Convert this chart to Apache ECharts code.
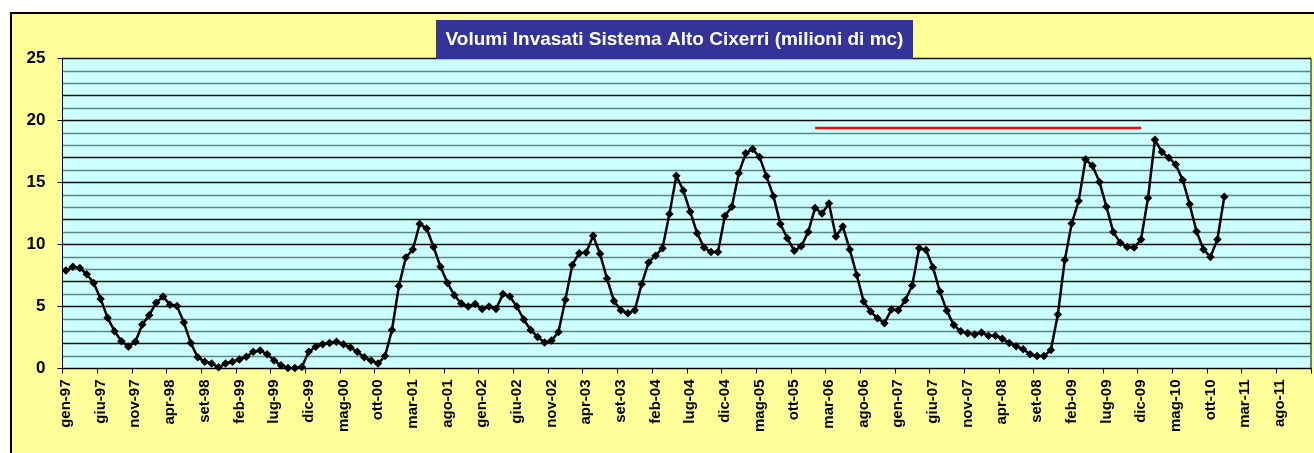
<!DOCTYPE html>
<html>
<head>
<meta charset="utf-8">
<script src="https://cdn.jsdelivr.net/npm/echarts@6/dist/echarts.min.js"></script>
<style>
	html, body { margin: 0; padding: 0; background: #fff; }
	#chart { width: 1314px; height: 453px; }
</style>
</head>
<body>
<div id="chart"></div>
<script>
/*mesi e anni dell'asse*/
var monthNames = ['gen', 'feb', 'mar', 'apr', 'mag', 'giu', 'lug', 'ago', 'set', 'ott', 'nov', 'dic'];
var years = ['97', '98', '99', '00', '01', '02', '03', '04', '05', '06', '07', '08', '09', '10', '11'];

/*volumi invasati (milioni di mc), un anno per riga*/
var volumes = [
	7.9, 8.2, 8.1, 7.6, 6.9, 5.6, 4.1, 3.0, 2.2, 1.75, 2.15, 3.55,
	4.3, 5.3, 5.8, 5.15, 5.05, 3.7, 2.05, 0.9, 0.55, 0.4, 0.1, 0.4,
	0.55, 0.73, 0.95, 1.35, 1.45, 1.15, 0.65, 0.27, 0.05, 0.05, 0.12, 1.35,
	1.75, 1.95, 2.05, 2.15, 1.95, 1.7, 1.35, 0.9, 0.65, 0.4, 1.0, 3.1,
	6.65, 8.95, 9.6, 11.65, 11.3, 9.8, 8.2, 6.9, 5.9, 5.25, 5.0, 5.2,
	4.8, 5.0, 4.8, 6.0, 5.8, 5.0, 3.95, 3.1, 2.55, 2.1, 2.25, 2.95,
	5.55, 8.35, 9.3, 9.35, 10.7, 9.25, 7.25, 5.45, 4.7, 4.45, 4.7, 6.8,
	8.55, 9.1, 9.7, 12.45, 15.55, 14.35, 12.65, 10.9, 9.75, 9.4, 9.4, 12.3,
	13.05, 15.75, 17.35, 17.7, 17.05, 15.5, 13.9, 11.65, 10.5, 9.5, 9.85, 11.0,
	12.95, 12.5, 13.3, 10.65, 11.45, 9.6, 7.55, 5.4, 4.6, 4.05, 3.65, 4.75,
	4.7, 5.5, 6.7, 9.7, 9.55, 8.15, 6.2, 4.65, 3.5, 3.0, 2.85, 2.75,
	2.9, 2.65, 2.65, 2.4, 2.05, 1.8, 1.55, 1.15, 1.0, 1.0, 1.5, 4.35,
	8.75, 11.7, 13.5, 16.85, 16.35, 15.05, 13.05, 11.0, 10.15, 9.8, 9.75, 10.4,
	13.75, 18.45, 17.45, 17.0, 16.45, 15.2, 13.25, 11.05, 9.6, 9.0, 10.4, 13.85,
	null, null, null, null, null, null, null, null, null, null, null, null
];

/*linea rossa*/
var redLevel = 19.4;
var redFrom = 'gen-06';
var redTo = 'dic-09';

/*etichette asse y*/
var yTicks = [0, 5, 10, 15, 20, 25];

var categories = [];
years.forEach(function(y) {
	monthNames.forEach(function(m) {
		categories.push(m + '-' + y);
	});
});

var iFrom = categories.indexOf(redFrom);
var iTo = categories.indexOf(redTo);
var redData = categories.map(function(c, i) {
	return (i >= iFrom && i <= iTo) ? redLevel : null;
});

var font = '"Liberation Sans", Arial, sans-serif';
var myChart = echarts.init(document.getElementById('chart'));

var option = {
	animation: false,
	backgroundColor: '#ffffff',
	graphic: [{
		type: 'rect',
		z: -10,
		shape: { x: 11, y: 13, width: 1330, height: 460 },
		style: { fill: '#FFFF99', stroke: '#000', lineWidth: 2 }
	}, {
		type: 'rect',
		z: 10,
		shape: { x: 436, y: 20, width: 477, height: 39 },
		style: { fill: '#333399' }
	}, {
		type: 'text',
		z: 11,
		x: 674.5,
		y: 40,
		style: {
			text: 'Volumi Invasati Sistema Alto Cixerri (milioni di mc)',
			fill: '#fff',
			font: 'bold 19px ' + font,
			align: 'center',
			verticalAlign: 'middle'
		}
	}],
	grid: {
		left: 62.5,
		right: 3,
		top: 58.5,
		bottom: 84.5,
		show: true,
		backgroundColor: '#CCFFFF',
		borderColor: '#000',
		borderWidth: 1,
		z: 0
	},
	xAxis: {
		type: 'category',
		data: categories,
		boundaryGap: true,
		axisLine: { show: true, lineStyle: { color: '#000', width: 1 } },
		axisTick: { show: true, interval: 4, length: 5, lineStyle: { color: '#000' } },
		axisLabel: {
			interval: 4,
			rotate: 90,
			margin: 11,
			color: '#000',
			fontFamily: font,
			fontWeight: 'bold',
			fontSize: 15
		},
		splitLine: { show: false }
	},
	yAxis: [{
		type: 'value',
		min: yTicks[0],
		max: yTicks[yTicks.length - 1],
		interval: 5,
		axisLine: { show: true, lineStyle: { color: '#000', width: 1 } },
		axisTick: { show: true, length: 5, lineStyle: { color: '#000' } },
		axisLabel: {
			margin: 17,
			color: '#000',
			fontFamily: font,
			fontWeight: 'bold',
			fontSize: 17
		},
		splitLine: { show: false }
	}, {
		type: 'value',
		min: 0,
		max: 25,
		interval: 1,
		position: 'left',
		axisLine: { show: false },
		axisTick: { show: false },
		axisLabel: { show: false },
		splitLine: {
			show: true,
			lineStyle: {
				color: ['#111111', '#5f8585', '#111111', '#5f8585', '#5f8585'],
				width: 1.3
			}
		}
	}],
	series: [{
		name: 'Volumi',
		type: 'line',
		data: volumes,
		yAxisIndex: 0,
		symbol: 'diamond',
		symbolSize: 8.5,
		showAllSymbol: true,
		connectNulls: false,
		lineStyle: { color: '#000', width: 2.5 },
		itemStyle: { color: '#000' },
		z: 5
	}, {
		name: 'Livello',
		type: 'line',
		data: redData,
		yAxisIndex: 0,
		symbol: 'none',
		lineStyle: { color: '#FF0000', width: 2.5 },
		z: 4
	}]
};

myChart.setOption(option);
</script>
</body>
</html>
